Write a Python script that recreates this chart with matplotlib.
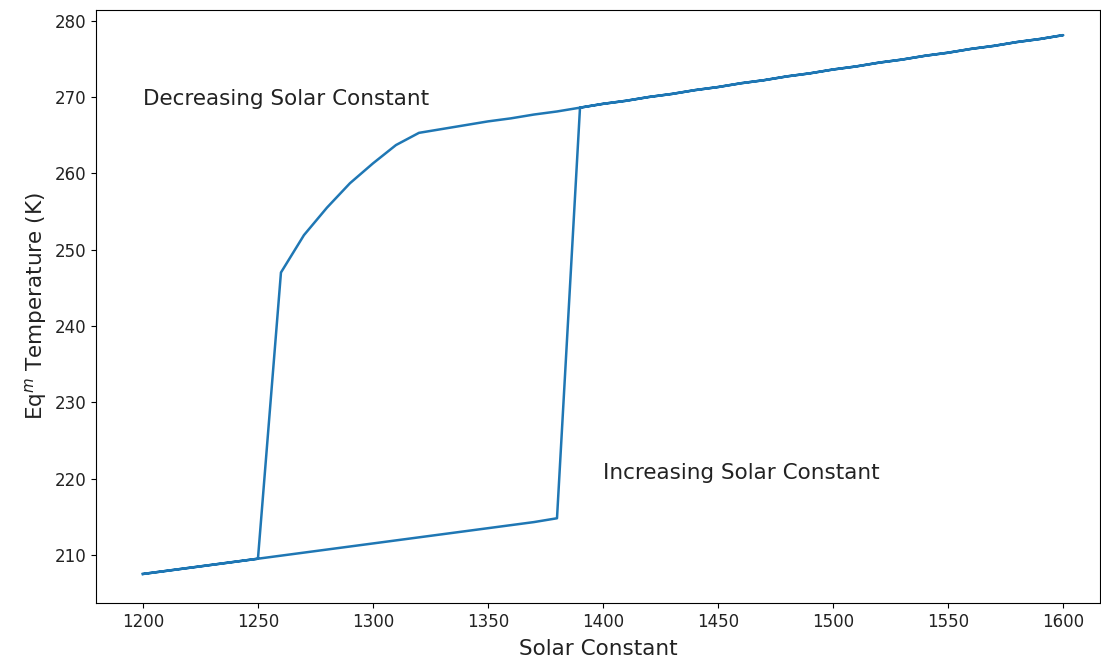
import matplotlib.pyplot as plt

# solar constant sweep, up then back down (step 10)
s_up = list(range(1200, 1610, 10))
s_down = list(range(1600, 1190, -10))

# equilibrium temperature while increasing S
T_up = [207.5, 207.9, 208.3, 208.7, 209.1, 209.5, 209.9, 210.3, 210.7, 211.1,
        211.5, 211.9, 212.3, 212.7, 213.1, 213.5, 213.9, 214.3, 214.8,
        268.6, 269.1, 269.5, 270.0, 270.4, 270.9, 271.3, 271.8, 272.2, 272.7,
        273.1, 273.6, 274.0, 274.5, 274.9, 275.4, 275.8, 276.3, 276.7, 277.2,
        277.6, 278.1]

# equilibrium temperature while decreasing S
T_down = [278.1, 277.6, 277.2, 276.7, 276.3, 275.8, 275.4, 274.9, 274.5, 274.0,
          273.6, 273.1, 272.7, 272.2, 271.8, 271.3, 270.9, 270.4, 270.0, 269.5,
          269.1, 268.6, 268.1, 267.7, 267.2, 266.8, 266.3, 265.8, 265.3,
          263.7, 261.3, 258.7, 255.5, 251.9, 247.0,
          209.5, 209.1, 208.7, 208.3, 207.9, 207.5]

S = s_up + s_down
T = T_up + T_down

fig = plt.figure(figsize=(11.01, 6.6), dpi=100)
ax = fig.add_axes([0.0872, 0.0864, 0.912, 0.8985])
ax.plot(S, T, color='tab:blue', lw=1.8)
ax.set_xlim(1179.6, 1616.1)
ax.set_ylim(203.7, 281.4)

ax.text(1200, 269, 'Decreasing Solar Constant', fontsize=15.5, color='#222222')
ax.text(1400, 220, 'Increasing Solar Constant', fontsize=15.5, color='#222222')

ax.set_xlabel('Solar Constant', fontsize=15.5, labelpad=6, color='#222222')
ax.set_ylabel('Eq$^m$ Temperature (K)', fontsize=15.5, color='#222222')
ax.tick_params(labelsize=12, labelcolor='#222222')

plt.savefig('out.png')
